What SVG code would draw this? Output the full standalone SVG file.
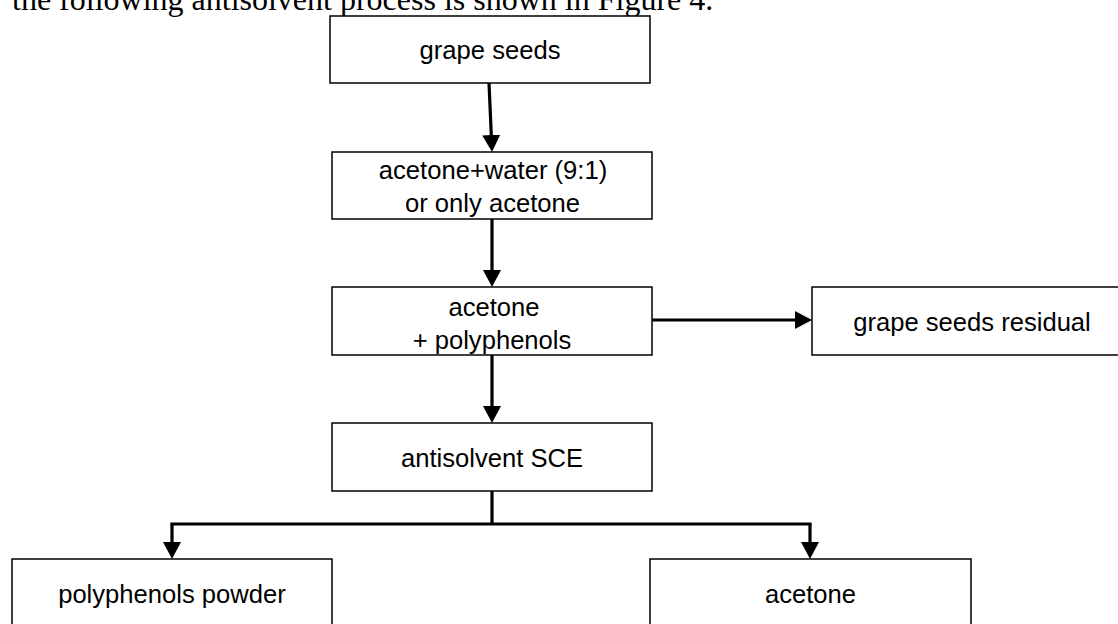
<svg xmlns="http://www.w3.org/2000/svg" width="1118" height="624" viewBox="0 0 1118 624">
  <style>
    .box { fill: #ffffff; stroke: #000000; stroke-width: 1.5; }
    .lbl { font-family: "Liberation Sans", Arial, sans-serif; font-size: 25.6px; fill: #000000; text-anchor: middle; }
    .cap { font-family: "Liberation Serif", "Times New Roman", serif; font-size: 32px; fill: #000000; }
    .conn { stroke: #000000; stroke-width: 3.2; fill: none; }
  </style>
  <defs>
    <marker id="ah" markerUnits="userSpaceOnUse" markerWidth="17" markerHeight="18" refX="5" refY="9" orient="auto">
      <path d="M0,0 L17,9 L0,18 Z" fill="#000000"/>
    </marker>
  </defs>
  <rect width="1118" height="624" fill="#ffffff"/>
  <text class="cap" x="12" y="10">the following antisolvent process is shown in Figure 4.</text>

  <g id="connectors">
    <line class="conn" x1="489" y1="83" x2="491.5" y2="140" marker-end="url(#ah)"/>
    <line class="conn" x1="492" y1="219" x2="492" y2="275" marker-end="url(#ah)"/>
    <line class="conn" x1="492" y1="355" x2="492" y2="411" marker-end="url(#ah)"/>
    <line class="conn" x1="651" y1="320" x2="800" y2="320" marker-end="url(#ah)"/>
    <line class="conn" x1="492" y1="491" x2="492" y2="524"/>
    <line class="conn" x1="170.4" y1="524" x2="811.6" y2="524"/>
    <line class="conn" x1="172" y1="524" x2="172" y2="547" marker-end="url(#ah)"/>
    <line class="conn" x1="810" y1="524" x2="810" y2="547" marker-end="url(#ah)"/>
  </g>

  <g id="node-grape-seeds">
    <rect class="box" x="330" y="16" width="320" height="67"/>
    <text class="lbl" x="490" y="59">grape seeds</text>
  </g>
  <g id="node-solvent">
    <rect class="box" x="332" y="152" width="320" height="67"/>
    <text class="lbl" x="493" y="179">acetone+water (9:1)</text>
    <text class="lbl" x="492.5" y="212">or only acetone</text>
  </g>
  <g id="node-acetone-polyphenols">
    <rect class="box" x="332" y="287" width="320" height="68"/>
    <text class="lbl" x="494" y="316">acetone</text>
    <text class="lbl" x="492" y="349">+ polyphenols</text>
  </g>
  <g id="node-residual">
    <rect class="box" x="812" y="287" width="320" height="68"/>
    <text class="lbl" x="972" y="331">grape seeds residual</text>
  </g>
  <g id="node-antisolvent">
    <rect class="box" x="332" y="423" width="320" height="68"/>
    <text class="lbl" x="492" y="467">antisolvent SCE</text>
  </g>
  <g id="node-powder">
    <rect class="box" x="12" y="559" width="320" height="80"/>
    <text class="lbl" x="172" y="603">polyphenols powder</text>
  </g>
  <g id="node-acetone-out">
    <rect class="box" x="650" y="559" width="321" height="80"/>
    <text class="lbl" x="810.5" y="603">acetone</text>
  </g>
</svg>
